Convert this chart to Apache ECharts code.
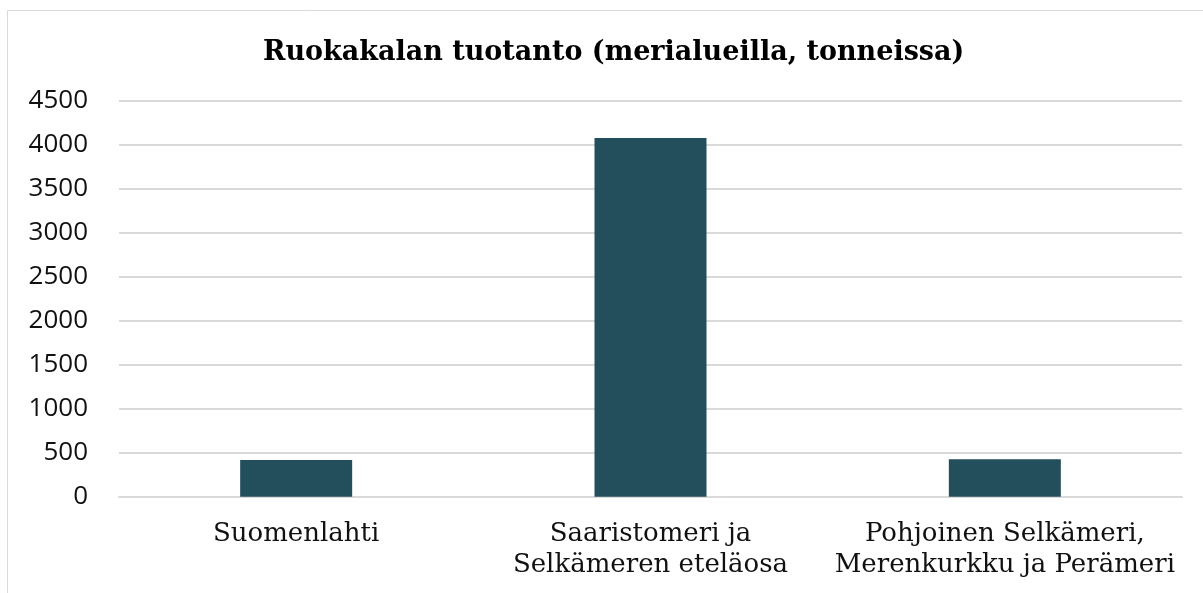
<!DOCTYPE html>
<html>
<head>
<meta charset="utf-8">
<script src="https://cdn.jsdelivr.net/npm/echarts@6/dist/echarts.min.js"></script>
<style>
  html, body { margin: 0; padding: 0; background: #fff; }
  #main { width: 1203px; height: 593px; }
</style>
</head>
<body>
<div id="main"></div>
<script>
// otsikko ja aineisto
var chartTitle = "Ruokakalan tuotanto (merialueilla, tonneissa)";
var categories = [
  "Suomenlahti",
  "Saaristomeri ja\nSelkämeren eteläosa",
  "Pohjoinen Selkämeri,\nMerenkurkku ja Perämeri"
];
var production = [417, 4076, 425];
var yTicks = [0, 500, 1000, 1500, 2000, 2500, 3000, 3500, 4000, 4500];

function drawChart() {
  var myChart = echarts.init(document.getElementById("main"));

  var option = {
    animation: false,
    backgroundColor: "#fff",
    title: {
      text: chartTitle,
      left: 258,
      top: 34,
      textStyle: {
        fontFamily: "DejaVu Serif",
        fontWeight: "bold",
        fontSize: 27,
        color: "#000"
      }
    },
    // ulkoreunus kuten alkuperäisessä
    graphic: [{
      type: "rect",
      shape: { x: 7.5, y: 10.5, width: 1300, height: 700 },
      style: { fill: "none", stroke: "#d9d9d9", lineWidth: 1 },
      silent: true
    }],
    grid: {
      left: 119,
      right: 21,
      top: 100.7,
      bottom: 96.3
    },
    xAxis: {
      type: "category",
      data: categories,
      axisLine: { show: true, lineStyle: { color: "#d9d9d9", width: 2 } },
      axisTick: { show: false },
      axisLabel: {
        interval: 0,
        margin: 22,
        fontFamily: "DejaVu Serif",
        fontSize: 26,
        lineHeight: 31,
        color: "#111"
      }
    },
    yAxis: {
      type: "value",
      min: yTicks[0],
      max: yTicks[yTicks.length - 1],
      interval: 500,
      axisLine: { show: false },
      axisTick: { show: false },
      splitLine: { lineStyle: { color: "#d9d9d9", width: 2 } },
      axisLabel: {
        margin: 31,
        fontFamily: "Open Sans",
        fontSize: 26,
        color: "#111",
        formatter: function (v) { return String(v); }
      }
    },
    series: [{
      type: "bar",
      data: production,
      barWidth: 112,
      itemStyle: { color: "#234e5c" }
    }]
  };

  myChart.setOption(option);
}

// odotetaan fontit ennen piirtoa
Promise.all([
  document.fonts.load('26px "Open Sans"'),
  document.fonts.load('26px "DejaVu Serif"'),
  document.fonts.load('bold 27px "DejaVu Serif"')
]).then(drawChart, drawChart);
</script>
</body>
</html>
